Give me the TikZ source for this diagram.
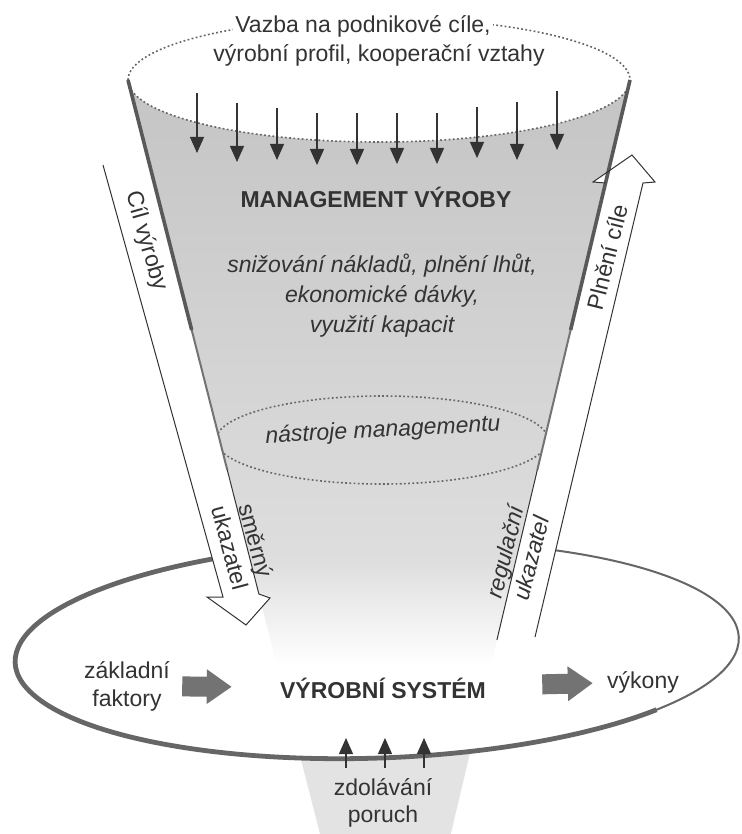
\documentclass[tikz,border=0pt]{standalone}
\usepackage{fontspec}
\setmainfont{Liberation Sans}
\usetikzlibrary{arrows.meta}

\colorlet{ink}{black!80}

\tikzset{
  txt/.style={font=\fontsize{11.5}{14}\selectfont, text=ink, inner sep=1pt},
  boldtxt/.style={txt, font=\fontsize{11.5}{14}\selectfont\bfseries},
  italtxt/.style={txt, font=\fontsize{11.5}{15}\selectfont\itshape, align=center},
  topdots/.style={draw=black!60, line width=0.8pt, dash pattern=on 0.9pt off 1.2pt},
  downarrow/.style={draw=ink, line width=0.6pt, -{Triangle[width=7pt,length=8pt]}},
  hollow/.style={draw=ink, line width=0.5pt, line join=miter},
  blockarrow/.style={draw=black!55, line width=10pt, -{Triangle[width=16.5pt,length=12.5pt]}},
  funneledge/.style={draw=black!65, line width=1.8pt},
  sysedge/.style={draw=black!60, line width=1pt},
}

\begin{document}
\begin{tikzpicture}[x=0.5pt,y=-0.5pt]
\useasboundingbox (0,0) rectangle (741,834);

% funnel below the system
\fill[black!11] (296,740) -- (473.1,740) -- (450.8,834) -- (320,834) -- cycle;

% production system
\begin{scope}[rotate around={2:(377,650)}]
\fill[white] (377,650) ellipse [x radius=362, y radius=108];
\draw[sysedge] (377,650) ellipse [x radius=362, y radius=108];
\draw[sysedge, line width=2.4pt] (377,650) ++(250:362 and 108)
  arc [start angle=250, end angle=40, x radius=362, y radius=108];
\end{scope}

% funnel of management
\shade[top color=black!23, bottom color=black!13] (128,80)
  arc [start angle=180, end angle=0, x radius=251, y radius=62]
  -- (515.9,560) -- (250.2,560) -- cycle;
\shade[top color=black!13, bottom color=white]
  (250.2,560) -- (515.9,560) -- (491.0,665) -- (276.9,665) -- cycle;
\draw[topdots] (379,80) ellipse [x radius=251, y radius=62];
\draw[topdots] (382,440) ellipse [x radius=166, y radius=44];

% hollow arrows
\fill[white] (103,165) -- (223,597) -- (207,597) -- (246,625) -- (270,598)
  -- (258.9,594) -- (149.6,165) -- cycle;
\fill[white] (496.9,640) -- (605.5,183) -- (593,182) -- (632,155) -- (655,182)
  -- (643,183) -- (535,637) -- cycle;

\draw[funneledge] (128,80) -- (191.7,330);
\draw[funneledge, line width=1pt, draw=black!55] (191.7,330) -- (227.3,470);
\draw[funneledge] (630,80) -- (570.6,330);
\draw[funneledge, line width=1pt, draw=black!55] (570.6,330) -- (537.3,470);

\draw[hollow] (103,165) -- (223,597) -- (207,597) -- (246,625) -- (270,598)
  -- (258.9,594) -- (227.3,470);
\draw[hollow] (496.9,640) -- (537.3,470);
\draw[hollow] (605.5,183) -- (593,182) -- (632,155) -- (655,182) -- (643,183)
  -- (535,637);

% inputs from above
\foreach \x/\ya/\yb in {197/93/153, 237/103/162, 277/108/160, 317/113/165,
  357/113/165, 397/113/164, 437/113/164, 477/107/158, 517/102/160, 557/91/150}
  \draw[downarrow] (\x,\ya) -- (\x,\yb);

% disturbances from below
\foreach \x in {346,385,424}
  \draw[downarrow] (\x,768) -- (\x,738);

% texts
\node[txt, fill=white] (vazba) at (363,26) {Vazba na podnikové cíle,};
\node[txt, fill=white] (profil) at (379,55) {výrobní profil, kooperační vztahy};
\node[boldtxt] (mgmt) at (376,197) {MANAGEMENT VÝROBY};
\node[italtxt] (cile) at (382,296) {snižování nákladů, plnění lhůt,\\ekonomické dávky,\\využití kapacit};
\node[italtxt, rotate=3] (nastroje) at (383,431) {nástroje managementu};

\node[txt, rotate=-74] (cil) at (146,241) {Cíl výroby};
\node[txt, rotate=76] (plneni) at (607,257) {Plnění cíle};
\node[txt, rotate=-75, align=center, font=\fontsize{11.5}{13.5}\selectfont] (smerny) at (243,544) {směrný\\ukazatel};
\node[txt, rotate=76, align=center, font=\fontsize{11.5}{13.5}\selectfont\itshape] (regul) at (518,555) {regulační\\ukazatel};

\node[txt, align=center] (faktory) at (127,686) {základní\\faktory};
\node[boldtxt] (system) at (383,688) {VÝROBNÍ SYSTÉM};
\node[txt] (vykony) at (643,682) {výkony};
\node[txt, align=center, font=\fontsize{11.5}{13.5}\selectfont] (poruchy) at (383,803) {zdolávání\\poruch};

\draw[blockarrow, shorten <=5pt, shorten >=23pt] (faktory) -- (system);
\draw[blockarrow, shorten <=27pt, shorten >=6pt] (system) -- (vykony);

\end{tikzpicture}
\end{document}
